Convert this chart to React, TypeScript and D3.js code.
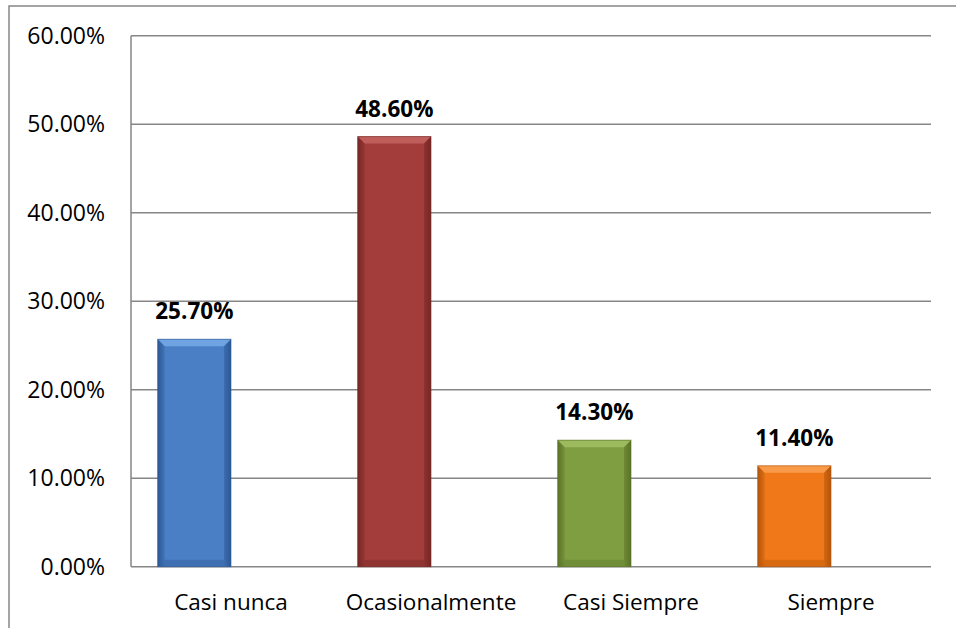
import React from "react";
import * as d3 from "d3";

const categories = ["Casi nunca", "Ocasionalmente", "Casi Siempre", "Siempre"];
const values = [25.7, 48.6, 14.3, 11.4];
const series = ["Porcentaje", "(vacío)"];
const yTicks = [0, 10, 20, 30, 40, 50, 60];
const barColors = [
  { base: "#4A7FC6", light: "#6FA3E2", dark: "#2C5995" },
  { base: "#A23D3B", light: "#C05E5B", dark: "#762725" },
  { base: "#7F9E42", light: "#9CBA5E", dark: "#5A7327" },
  { base: "#F07818", light: "#F89A48", dark: "#B3550B" },
];

const W = 956;
const H = 628;
const left = 131;
const right = 931;
const top = 35.7;
const bottom = 566.7;
const bevel = 7;
const font = "'Open Sans', 'Noto Sans', sans-serif";

export default function App() {
  const x = d3
    .scaleBand<string>()
    .domain(categories)
    .range([left, right])
    .paddingInner(0.2667)
    .paddingOuter(0.1333);
  const xs = d3.scaleBand<string>().domain(series).range([0, x.bandwidth()]);
  const y = d3.scaleLinear().domain([0, 60]).range([bottom, top]);

  return (
    <svg
      width={W}
      height={H}
      style={{ position: "absolute", left: 0, top: 0, background: "#fff" }}
    >
      <defs>
        {barColors.map((c, i) => (
          <linearGradient key={i} id={`g${i}`} x1="0" x2="1" y1="0" y2="0">
            <stop offset="0" stopColor={c.dark} />
            <stop offset="0.1" stopColor={c.base} />
            <stop offset="0.5" stopColor={c.base} />
            <stop offset="0.9" stopColor={c.base} />
            <stop offset="1" stopColor={c.dark} />
          </linearGradient>
        ))}
      </defs>

      {/* outer frame */}
      <rect x={9} y={6} width={980} height={660} fill="none" stroke="#868686" strokeWidth={1.5} />

      {/* gridlines */}
      {yTicks.map((t) => (
        <line
          key={t}
          x1={left}
          x2={right}
          y1={y(t)}
          y2={y(t)}
          stroke="#868686"
          strokeWidth={1.5}
        />
      ))}
      <line x1={left} x2={left} y1={top} y2={bottom} stroke="#868686" strokeWidth={1.5} />

      {/* y tick labels */}
      {yTicks.map((t) => (
        <text
          key={t}
          x={105}
          y={y(t)}
          dy="0.36em"
          textAnchor="end"
          fontFamily={font}
          fontSize={23}
          fill="#000"
        >
          {t.toFixed(2)}%
        </text>
      ))}

      {/* bars */}
      {categories.map((cat, i) => {
        const bx = (x(cat) as number) + (xs(series[0]) as number);
        const bw = xs.bandwidth();
        const by = y(values[i]);
        const bh = y(0) - by;
        const c = barColors[i];
        const b = Math.min(bevel, bh / 2);
        return (
          <g key={cat}>
            <rect x={bx} y={by} width={bw} height={bh} fill={`url(#g${i})`} />
            {/* bevel: top highlight */}
            <polygon
              points={`${bx},${by} ${bx + bw},${by} ${bx + bw - b},${by + b} ${bx + b},${by + b}`}
              fill={c.light}
            />
            {/* bevel: sides */}
            <polygon
              points={`${bx},${by} ${bx + b},${by + b} ${bx + b},${by + bh - b} ${bx},${by + bh}`}
              fill={c.dark}
              opacity={0.25}
            />
            <polygon
              points={`${bx + bw},${by} ${bx + bw - b},${by + b} ${bx + bw - b},${by + bh - b} ${bx + bw},${by + bh}`}
              fill={c.dark}
              opacity={0.45}
            />
            {/* bevel: bottom */}
            <polygon
              points={`${bx},${by + bh} ${bx + b},${by + bh - b} ${bx + bw - b},${by + bh - b} ${bx + bw},${by + bh}`}
              fill={c.dark}
              opacity={0.4}
            />
            <rect
              x={bx}
              y={by}
              width={bw}
              height={bh}
              fill="none"
              stroke={c.dark}
              strokeOpacity={0.6}
              strokeWidth={1}
            />
            <text
              x={bx + bw / 2}
              y={by - 20}
              textAnchor="middle"
              fontFamily={font}
              fontWeight="bold"
              fontSize={22.5}
              fill="#000"
            >
              {values[i].toFixed(2)}%
            </text>
          </g>
        );
      })}

      {/* category labels */}
      {categories.map((cat) => (
        <text
          key={cat}
          x={(x(cat) as number) + x.bandwidth() / 2}
          y={610}
          textAnchor="middle"
          fontFamily={font}
          fontSize={22.5}
          fill="#000"
        >
          {cat}
        </text>
      ))}
    </svg>
  );
}
